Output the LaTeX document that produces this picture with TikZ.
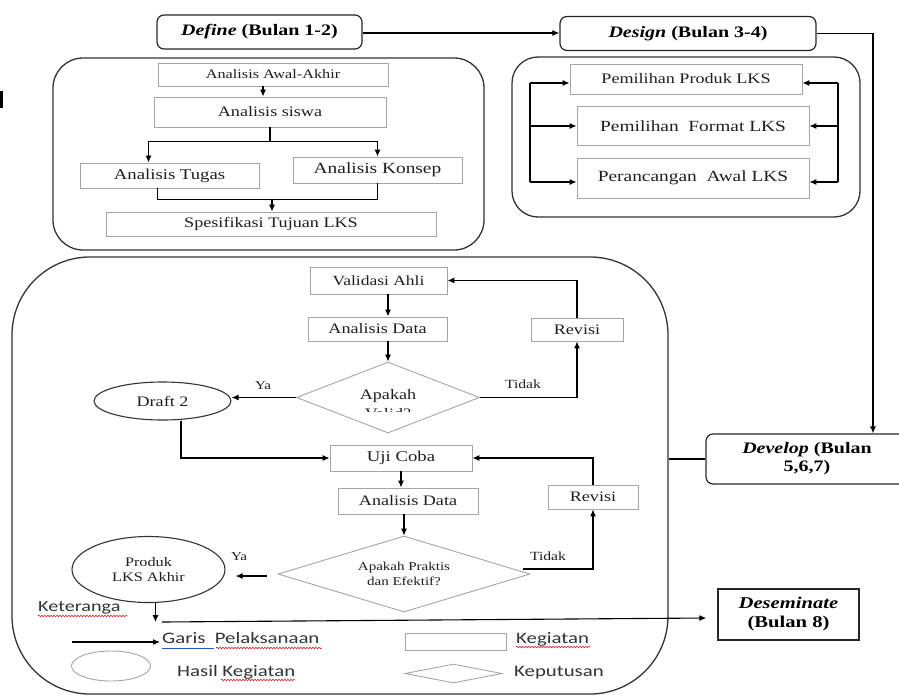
\documentclass[tikz,border=0pt]{standalone}
\usepackage{fontspec}
\setmainfont[FakeStretch=1.25]{Liberation Serif}
\newfontfamily\legfont[FakeStretch=1.3]{Carlito}
\usetikzlibrary{arrows.meta,shapes.geometric,decorations.pathmorphing}
\newcommand\fsz[2]{\fontsize{#1}{#2}\selectfont}
\definecolor{boxgray}{RGB}{165,165,165}
\definecolor{spellred}{RGB}{220,30,30}
\definecolor{spellblue}{RGB}{40,90,210}
\definecolor{ink}{RGB}{30,30,30}
\begin{document}
\begin{tikzpicture}[x=1pt,y=-1pt,
  gbox/.style={draw=boxgray,line width=0.9pt,rectangle,inner sep=0pt,align=center,text=ink},
  rbox/.style={draw=black!85,line width=1.2pt,rounded corners=7pt,inner sep=0pt,align=center},
  cont/.style={draw=black!80,line width=1.3pt,inner sep=0pt},
  arr/.style={line width=1.1pt,-{Latex[length=7pt,width=6pt]}},
  ln/.style={line width=1.1pt},
  gdiam/.style={diamond,draw=boxgray,line width=0.9pt,inner sep=0pt,align=center,text=ink},
  gell/.style={ellipse,draw=black!80,line width=1.1pt,inner sep=0pt,align=center,text=ink},
  lbl/.style={inner sep=0pt,text=ink},
  leg/.style={inner sep=0pt,text=black!80,font=\legfont\fsz{16}{19}},
  wavy/.style={draw=spellred,line width=0.6pt,decorate,decoration={snake,amplitude=0.8pt,segment length=3pt}},
]
\useasboundingbox (0,0) rectangle (899,696);
\fill[black] (0,91) rectangle (2.5,108);

% ---------- phase boxes ----------
\node[rbox,minimum width=205pt,minimum height=34pt,font=\fsz{16}{19}\bfseries] (def) at (259.5,32)
  {\textit{Define} (Bulan 1-2)};
\node[rbox,minimum width=256pt,minimum height=34pt,font=\fsz{16}{19}\bfseries] (des) at (688,33.5)
  {\textit{Design} (Bulan 3-4)};
\node[rbox,minimum width=202pt,minimum height=50pt,font=\fsz{16}{18}\bfseries] (dev) at (807,459)
  {\textit{Develop} (Bulan\\5,6,7)};
\node[draw=black!85,line width=1.3pt,inner sep=0pt,align=center,minimum width=141pt,minimum height=51pt,font=\fsz{16.5}{19}\bfseries] (ds) at (788.5,614.5)
  {\textit{Deseminate}\\(Bulan 8)};

% ---------- containers ----------
\node[cont,rounded corners=30pt,minimum width=431pt,minimum height=192pt] (defc) at (268.5,154) {};
\node[cont,rounded corners=26pt,minimum width=348pt,minimum height=160pt] (desc) at (686,137) {};
\node[cont,rounded corners=78pt,minimum width=656pt,minimum height=437pt] (devc) at (340,475.5) {};

% ---------- define stage ----------
\node[gbox,minimum width=230pt,minimum height=23pt,font=\fsz{13}{15}] (aa) at (273,74.5) {Analisis Awal-Akhir};
\node[gbox,minimum width=232pt,minimum height=30pt,font=\fsz{14.5}{17}] (as) at (270,112) {Analisis siswa};
\node[gbox,minimum width=179pt,minimum height=25pt,font=\fsz{15}{17}] (at) at (169.5,175.5) {Analisis Tugas};
\node[gbox,minimum width=169pt,minimum height=26pt,font=\fsz{15.5}{17}] (ak) at (377.5,170) {Analisis Konsep};
\node[gbox,minimum width=330pt,minimum height=24pt,font=\fsz{14.5}{17}] (st) at (271,224) {Spesifikasi Tujuan LKS};

\draw[arr] ([xshift=-10pt]aa.south) -- ([xshift=-10pt]aa.south |- as.north);
\draw[ln] (as.south) -- ++(0,14) coordinate (sp);
\draw[arr] (sp) -| ([xshift=-21pt]at.north);
\draw[arr] (sp) -| (ak.north);
\draw[ln] ([xshift=-12pt]at.south) -- ++(0,11) coordinate (jl) -| (ak.south);
\coordinate (j2) at (272,199);
\draw[arr] (j2) -- (j2 |- st.north);

% ---------- design stage ----------
\node[gbox,minimum width=232pt,minimum height=30pt,font=\fsz{14.5}{17}] (pp) at (686,79) {Pemilihan Produk LKS};
\node[gbox,minimum width=232pt,minimum height=39pt,font=\fsz{15.5}{17}] (pf) at (693,126) {Pemilihan\ \ Format LKS};
\node[gbox,minimum width=232pt,minimum height=40pt,font=\fsz{15.5}{17}] (pa) at (693,178) {Perancangan\ \ Awal LKS};

\coordinate (lb) at (530,0);
\coordinate (rb) at (838,0);
\draw[ln] ([yshift=-4pt]lb |- pp.west) -- ([yshift=-4pt]lb |- pa.west);
\draw[arr] ([yshift=-4pt]lb |- pp.west) -- ([yshift=-4pt]pp.west);
\draw[arr] (lb |- pf.west) -- (pf.west);
\draw[arr] ([yshift=-4pt]lb |- pa.west) -- ([yshift=-4pt]pa.west);
\draw[ln] ([yshift=-4pt]rb |- pp.east) -- ([yshift=-4pt]rb |- pa.east);
\draw[arr] ([yshift=-4pt]rb |- pp.east) -- ([yshift=-4pt]pp.east);
\draw[arr] (rb |- pf.east) -- (pf.east);
\draw[arr] ([yshift=-4pt]rb |- pa.east) -- ([yshift=-4pt]pa.east);

% ---------- phase connectors ----------
\draw[arr] (def.east |- 0,33) -- (des.west |- 0,33);
\coordinate (dx) at (873,0);
\draw[arr] (des.east) -| (dx |- dev.north);
\draw[ln] (dev.west -| devc.east) -- (dev.west);

% ---------- develop stage ----------
\node[gbox,minimum width=137pt,minimum height=27pt,font=\fsz{14}{17}] (va) at (378.5,280.5) {Validasi Ahli};
\node[gbox,minimum width=139pt,minimum height=24pt,font=\fsz{14.5}{17}] (ad1) at (377.5,329) {Analisis Data};
\node[gdiam,minimum width=183pt,minimum height=71pt] (dv) at (388,397.5) {};
\begin{scope}
  \clip (300,370) rectangle (480,411);
  \node[lbl,align=center,anchor=north,font=\fsz{14.5}{19}] at (388,389) {Apakah\\Valid?};
\end{scope}
\node[gbox,minimum width=92pt,minimum height=23pt,font=\fsz{14.5}{17}] (rv1) at (577,329.5) {Revisi};
\node[gell,minimum width=137pt,minimum height=38pt,font=\fsz{14.5}{17}] (d2) at (162.5,401) {Draft 2};
\node[gbox,minimum width=142pt,minimum height=26pt,font=\fsz{15}{17}] (uc) at (401,458) {Uji Coba};
\node[gbox,minimum width=140pt,minimum height=26pt,font=\fsz{14.5}{17}] (ad2) at (408,501) {Analisis Data};
\node[gdiam,shape aspect=3.3,minimum width=252pt,minimum height=76pt,font=\fsz{12}{15}] (dp) at (404,574)
  {Apakah Praktis\\dan Efektif?};
\node[gbox,minimum width=90pt,minimum height=24pt,font=\fsz{14.5}{17}] (rv2) at (593,497) {Revisi};
\node[gell,minimum width=153pt,minimum height=66pt,font=\fsz{13}{15}] (pl) at (148.5,569.5) {Produk\\LKS Akhir};

\draw[arr] (va.south -| dv.north) -- (ad1.north -| dv.north);
\draw[arr] (ad1.south -| dv.north) -- (dv.north);
\draw[arr] (dv.west) -- (dv.west -| d2.east);
\node[lbl,font=\fsz{12}{14}] at (263,386) {Ya};
\draw[arr] (dv.east) -| (rv1.south);
\node[lbl,font=\fsz{12.5}{14}] at (523,384) {Tidak};
\draw[arr] (rv1.north) |- (va.east);
\draw[arr] ([xshift=18.5pt]d2.south) |- (uc.west);
\draw[arr] (uc.south) -- (uc.south |- ad2.north);
\draw[arr] (dp.north |- ad2.south) -- (dp.north);
\draw[arr] ([xshift=-11pt,yshift=-2pt]dp.west) -- ([xshift=10pt,yshift=-2pt]dp.west -| pl.east);
\node[lbl,font=\fsz{12}{14}] at (239,557) {Ya};
\draw[arr] ([xshift=-7pt,yshift=5pt]dp.east) -| (rv2.south);
\node[lbl,font=\fsz{12.5}{14}] at (548,556) {Tidak};
\draw[arr] (rv2.north) |- (uc.east);

% to deseminate
\draw[arr] ([xshift=7pt]pl.south) -- ++(0,19) coordinate (pe);
\coordinate (ls) at (162,622);
\draw[arr] (ls) -- ([xshift=-11pt,yshift=-3.5pt]ds.west);

% ---------- legend ----------
\node[leg,anchor=base west,font=\legfont\fsz{15.5}{18}] (ket) at (38,611) {Keteranga};
\draw[wavy] (38,616) -- (127,616);
\coordinate (la1) at (72,642);
\coordinate (la2) at (160,642);
\draw[arr] (la1) -- (la2);
\node[leg,anchor=base west] (gp) at (162,643) {Garis\ \ Pelaksanaan};
\draw[draw=spellblue,line width=0.9pt] (162,648) -- (214,648);
\draw[wavy] (216,648) -- (322,648);
\node[draw=boxgray,line width=0.9pt,ellipse,minimum width=79pt,minimum height=30pt,inner sep=0pt] (le) at (111,666) {};
\node[leg,anchor=base west] (hk) at (177,676) {Hasil Kegiatan};
\draw[wavy] (221,680) -- (295,680);
\node[draw=boxgray,line width=0.9pt,minimum width=101pt,minimum height=17pt,inner sep=0pt] (lr) at (455.5,641.5) {};
\node[leg,anchor=base west] (kg) at (516,643) {Kegiatan};
\draw[wavy] (516,647) -- (590,647);
\node[draw=boxgray,line width=0.9pt,diamond,minimum width=97pt,minimum height=19pt,inner sep=0pt] (ldi) at (453.5,673.5) {};
\node[leg,anchor=base west] (kp) at (514,676) {Keputusan};
\end{tikzpicture}
\end{document}
